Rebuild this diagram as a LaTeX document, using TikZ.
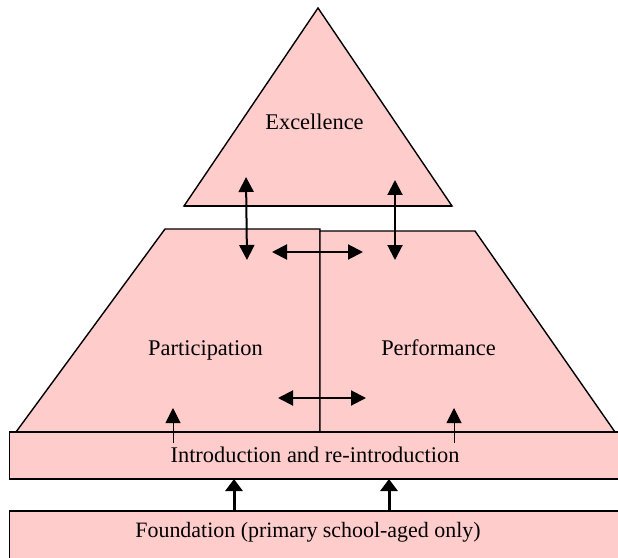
\documentclass[tikz,border=0pt]{standalone}
\usepackage{fontspec}
\setmainfont{Liberation Serif}
\usetikzlibrary{arrows.meta}
\definecolor{tierfill}{RGB}{255,204,204}
\begin{document}
\begin{tikzpicture}[x=1bp,y=-1bp,
  tier/.style={fill=tierfill,draw=black,line width=1.4bp,line join=miter},
  edge/.style={draw=black,line width=1.6bp},
  tiertext/.style={font=\fontsize{22.5}{26}\selectfont,anchor=base,inner sep=0pt},
  link/.style={line width=2bp,{Triangle[width=15bp,length=15bp]}-{Triangle[width=15bp,length=15bp]}},
  rise/.style={line width=1bp,-{Triangle[width=15bp,length=15bp]}},
  feed/.style={line width=3bp,-{Triangle[width=17bp,length=12bp]}}]
\useasboundingbox (0,0) rectangle (618,558);
\clip (0,0) rectangle (618,558);

% top tier
\draw[tier] (318,8) -- (452,206) -- (184,206) -- cycle;
\draw[edge] (184,206) -- (452,206);
% middle tier, split in two halves
\draw[tier] (165,229) -- (320,229) -- (320,432) -- (16,432) -- cycle;
\draw[tier] (320,231) -- (475,231) -- (615,432) -- (320,432) -- cycle;
% lower bands, open on the right
\fill[tierfill] (9.5,432) rectangle (640,479);
\draw[edge] (640,432) -- (9.5,432) -- (9.5,479) -- (640,479);
\fill[tierfill] (9.5,511) rectangle (640,570);
\draw[edge] (640,511) -- (9.5,511) -- (9.5,570);

% labels
\node[tiertext] (excellence) at (314.5,130) {Excellence};
\node[tiertext] (participation) at (205.5,355) {Participation};
\node[tiertext] (performance) at (438.5,355) {Performance};
\node[tiertext] (intro) at (315,462) {Introduction and re-introduction};
\node[tiertext,font=\fontsize{22}{26}\selectfont] (foundation) at (308,537) {Foundation (primary school-aged only)};

% arrow end points
\coordinate (exL) at (246,177);
\coordinate (paTop) at (247,260);
\coordinate (exR) at (395,180);
\coordinate (peTop) at (395,260);
\coordinate (hTopL) at (272,252);
\coordinate (hTopR) at (363,252);
\coordinate (hLowL) at (278,398);
\coordinate (hLowR) at (366,398);
\coordinate (inL) at (173,443);
\coordinate (paLow) at (173,408);
\coordinate (inR) at (454,443);
\coordinate (peLow) at (454,408);
\coordinate (foL) at (234,511);
\coordinate (inBotL) at (234,479);
\coordinate (foR) at (389,511);
\coordinate (inBotR) at (389,479);

% connectors
\draw[link] (exL) -- (paTop);
\draw[link] (exR) -- (peTop);
\draw[link] (hTopL) -- (hTopR);
\draw[link] (hLowL) -- (hLowR);
\draw[rise] (inL) -- (paLow);
\draw[rise] (inR) -- (peLow);
\draw[feed] (foL) -- (inBotL);
\draw[feed] (foR) -- (inBotR);
\end{tikzpicture}
\end{document}
